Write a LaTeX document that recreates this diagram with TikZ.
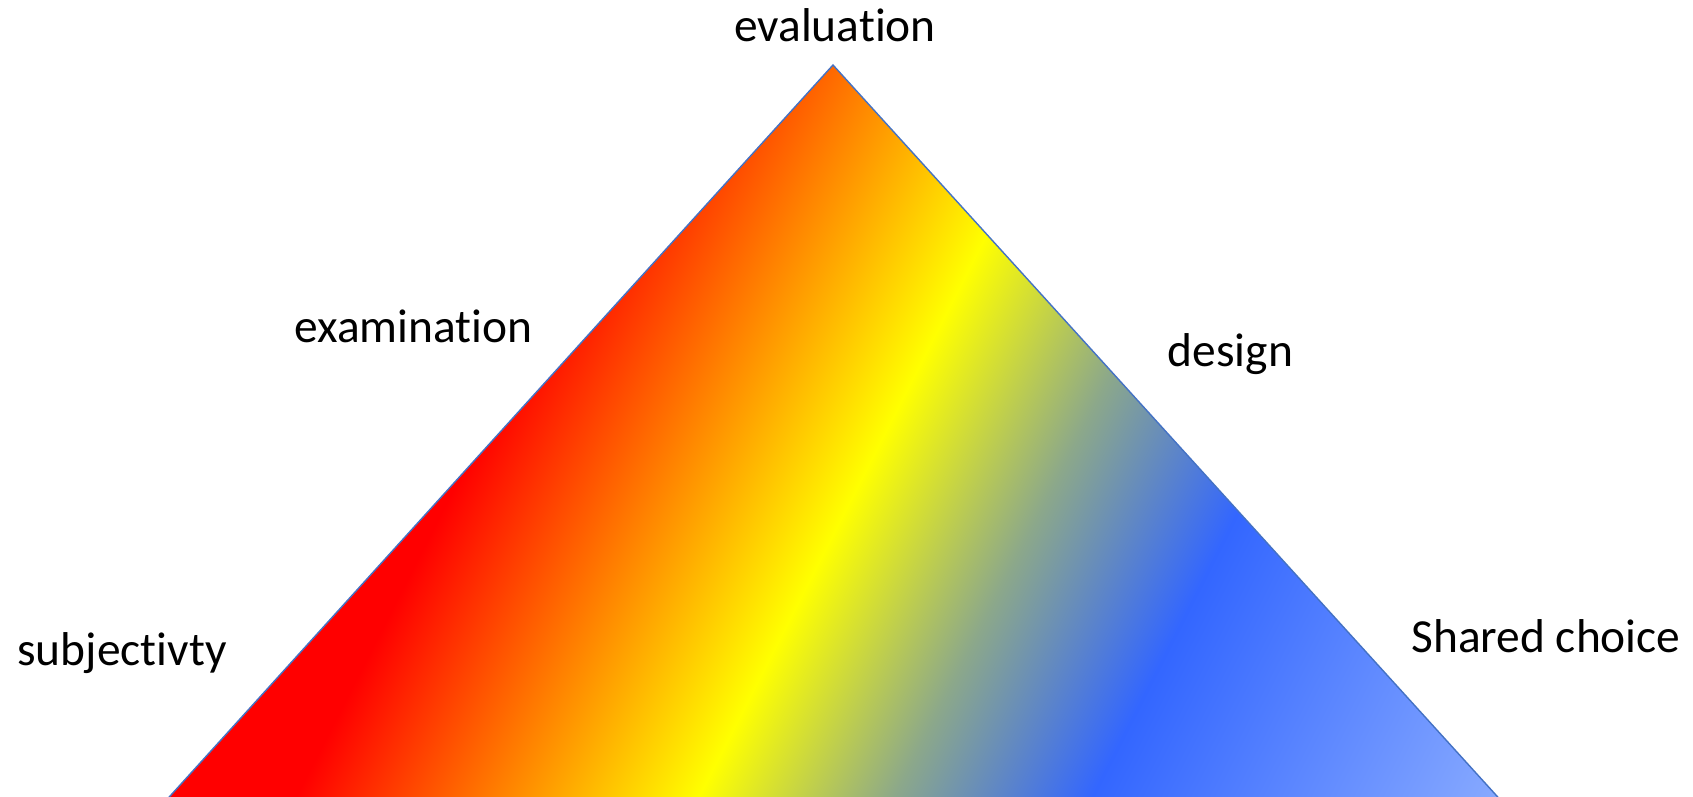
\documentclass[tikz,border=0pt]{standalone}
\usepackage{fontspec}
\setmainfont{Carlito}[Ligatures={NoCommon,NoRequired,NoContextual}, Contextuals={NoAlternate}]
\usetikzlibrary{positioning}
\definecolor{edgeblue}{RGB}{68,114,196}
\definecolor{bandred}{RGB}{255,0,0}
\definecolor{bandorange}{RGB}{255,128,0}
\definecolor{bandyellow}{RGB}{255,255,0}
\definecolor{bandgrey}{RGB}{140,168,138}
\definecolor{bandblue}{RGB}{51,102,255}
\definecolor{bandsky}{RGB}{136,170,255}
\pgfdeclarehorizontalshading{spectrum}{100bp}{color(0bp)=(bandred); color(33.1bp)=(bandred); color(39.5bp)=(bandorange); color(45.9bp)=(bandyellow); color(52.1bp)=(bandgrey); color(58.4bp)=(bandblue); color(71.4bp)=(bandsky); color(100bp)=(bandsky)}
\newcommand{\nolig}{\kern0pt}

\begin{document}
\begin{tikzpicture}[
    word/.style={font=\fontsize{13.5}{16}\selectfont, anchor=base, inner sep=0pt},
    wedge/.style={draw=edgeblue, line width=0.4pt}
]
    \useasboundingbox (0,0) rectangle (16.93,7.96);
    \coordinate (apex) at (8.33,7.31);
    \coordinate (basel) at (1.52,-0.2);
    \coordinate (baser) at (15.15,-0.2);

    % colour bands across the triangle
    \begin{scope}
        \clip (basel) -- (apex) -- (baser) -- cycle;
        \begin{scope}[transform canvas={shift={(0.416,0)}, rotate=-27.1}]
            \shade[shading=spectrum] (0,-2) rectangle (14,12);
        \end{scope}
    \end{scope}
    \draw[wedge] (basel) -- (apex) -- (baser) -- cycle;

    \node[word] (evaluation) at (8.35,7.54) {evaluat\nolig ion};
    \node[word] (examination) at (4.135,4.54) {examinat\nolig ion};
    \node[word] (design) at (12.305,4.29) {design};
    \node[word] (subjectivty) at (1.22,1.31) {subject\nolig ivty};
    \node[word] (shared) at (15.46,1.43) {Shared choice};
\end{tikzpicture}
\end{document}
